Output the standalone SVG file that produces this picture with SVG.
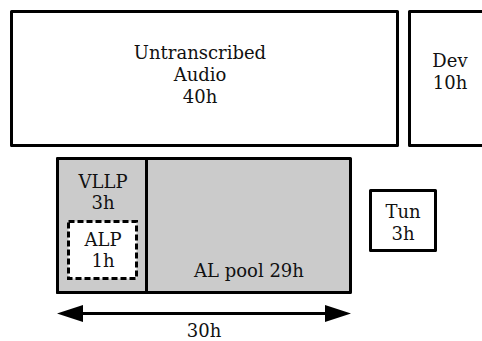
<svg xmlns="http://www.w3.org/2000/svg" width="482" height="341" viewBox="0 0 482 341">
<style>
.box{fill:#fff;stroke:#000;stroke-width:3;stroke-linejoin:round}
.gray{fill:#cbcbcb;stroke:#000;stroke-width:3;stroke-linejoin:round}
.dash{fill:#fff;stroke:#000;stroke-width:3;stroke-dasharray:6,3}
text{font-family:"DejaVu Serif",serif;font-size:18px;fill:#111;text-anchor:middle}
</style>
<rect width="482" height="341" fill="#fff"/>
<g id="untranscribed">
<rect class="box" x="11.5" y="11.5" width="386" height="134"/>
<text x="200" y="59">Untranscribed</text>
<text x="200" y="81">Audio</text>
<text x="200" y="103">40h</text>
</g>
<g id="dev">
<rect class="box" x="409.5" y="11.5" width="100" height="134"/>
<text x="450" y="67">Dev</text>
<text x="450" y="89">10h</text>
</g>
<g id="alpool">
<rect class="gray" x="57.5" y="158.5" width="293" height="134"/>
<text x="249" y="277">AL pool 29h</text>
</g>
<g id="vllp">
<rect class="gray" x="57.5" y="158.5" width="89" height="134"/>
<text x="103" y="188">VLLP</text>
<text x="103" y="209">3h</text>
</g>
<g id="alp">
<rect class="dash" x="68.5" y="221.5" width="68" height="57"/>
<text x="103" y="246">ALP</text>
<text x="103" y="267">1h</text>
</g>
<g id="tun">
<rect class="box" x="370.5" y="190.5" width="65" height="60"/>
<text x="403" y="218">Tun</text>
<text x="403" y="240">3h</text>
</g>
<g id="connectors">
<line x1="80" y1="313.5" x2="328" y2="313.5" stroke="#000" stroke-width="3"/>
<polygon points="57,313.5 83,305 83,322" fill="#000"/>
<polygon points="351,313.5 325,305 325,322" fill="#000"/>
</g>
<text x="204" y="337">30h</text>
</svg>
